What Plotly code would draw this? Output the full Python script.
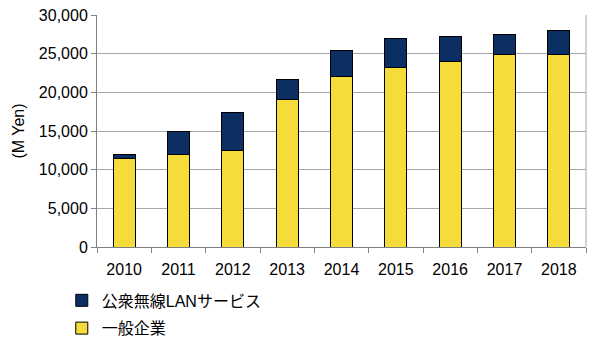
import plotly.graph_objects as go

years = ["2010", "2011", "2012", "2013", "2014", "2015", "2016", "2017", "2018"]
general = [11500, 12000, 12450, 19100, 22000, 23200, 24000, 24900, 24900]
public_wlan = [500, 2900, 5000, 2600, 3400, 3800, 3200, 2600, 3100]

name_general = "一般企業"
name_public = "公衆無線LANサービス"

FONT = "Arial, Liberation Sans, Noto Sans CJK JP, sans-serif"

fig = go.Figure()
fig.add_trace(go.Bar(
    x=years, y=general, name=name_general,
    marker=dict(color="#f6dc3a", line=dict(color="#000000", width=1)),
    width=0.4, legendgroup="g", legendrank=2,
))
fig.add_trace(go.Bar(
    x=years, y=public_wlan, name=name_public,
    marker=dict(color="#0b2f63", line=dict(color="#000000", width=1)),
    width=0.4, legendgroup="p", legendrank=1,
))

fig.update_layout(
    width=596, height=345,
    barmode="stack",
    plot_bgcolor="white", paper_bgcolor="white",
    margin=dict(l=97, r=10, t=15, b=98, autoexpand=False),
    font=dict(family=FONT, size=16, color="#000000"),
    showlegend=True,
    legend=dict(
        x=-0.072, xanchor="left", y=-0.157, yanchor="top",
        orientation="v", tracegroupgap=4,
        font=dict(family=FONT, size=16),
        bgcolor="rgba(0,0,0,0)",
    ),
    xaxis=dict(
        type="category",
        showline=True, linecolor="#808080", linewidth=1,
        ticks="outside", tickson="boundaries", ticklen=5, tickcolor="#808080",
        ticklabelstandoff=8,
        showgrid=False, mirror=False,
        tickfont=dict(size=16),
    ),
    yaxis=dict(
        range=[0, 30000], dtick=5000, tickformat=",d",
        showline=True, linecolor="#808080", linewidth=1,
        ticks="outside", ticklen=5, tickcolor="#808080",
        showgrid=True, gridcolor="#a6a6a6", gridwidth=1,
        zeroline=False,
        title=dict(text="(M Yen)", font=dict(size=16), standoff=10),
        tickfont=dict(size=16),
    ),
)

# right border of plot area
fig.add_shape(type="line", xref="paper", yref="paper", x0=1, x1=1, y0=0, y1=1,
              line=dict(color="#a6a6a6", width=1))

fig.write_html("out.html")
